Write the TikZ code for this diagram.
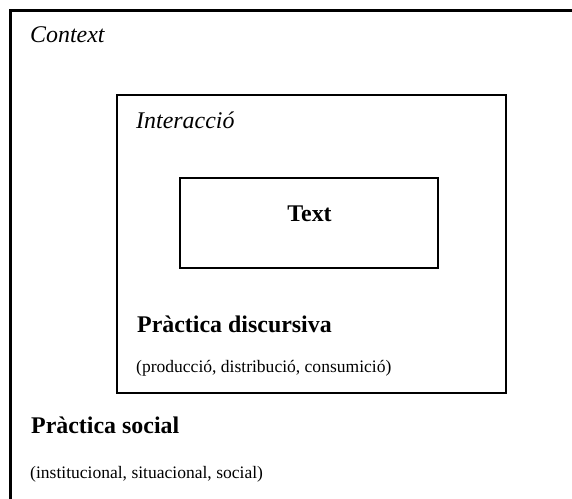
\documentclass[tikz,border=0pt]{standalone}
\usepackage{fontspec}
\setmainfont{Liberation Serif}
\begin{document}
\begin{tikzpicture}[x=1bp,y=-1bp,
  frame/.style={line width=2.4bp, black},
  big/.style={font=\fontsize{24}{28}\selectfont, anchor=base west, inner sep=0pt},
  small/.style={font=\fontsize{17.6}{21}\selectfont, anchor=base west, inner sep=0pt}]
\useasboundingbox (0,0) rectangle (572,499);
% outer context frame (open to the right and bottom)
\coordinate (ctxTR) at (574,10.5);
\coordinate (ctxTL) at (10.5,10.5);
\coordinate (ctxBL) at (10.5,501);
\draw[frame, line join=miter] (ctxTR) -- (ctxTL) -- (ctxBL);
% interaction box
\node[frame, draw, minimum width=389bp, minimum height=298bp, inner sep=0pt] (inter) at (311.5,244) {};
% text box
\node[frame, draw, minimum width=258bp, minimum height=90bp, inner sep=0pt] (textbox) at (309,223) {};
% labels
\node[big] (ctx) at (30,43) {\itshape Context};
\node[big] (int) at (136,129) {\itshape Interacció};
\node[big, anchor=base] (txt) at (309.5,222) {\bfseries Text};
\node[big] (pd) at (137,332) {\bfseries Pràctica discursiva};
\node[small] (pdsub) at (136,372) {(producció, distribució, consumició)};
\node[big] (ps) at (31,433) {\bfseries Pràctica social};
\node[small] (pssub) at (30,478) {(institucional, situacional, social)};
\end{tikzpicture}
\end{document}
